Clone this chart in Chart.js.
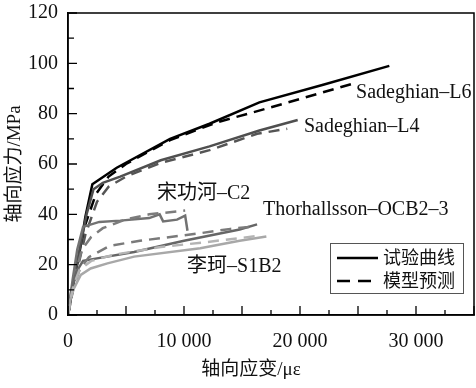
<!DOCTYPE html>
<html>
<head>
<meta charset="utf-8">
<script src="https://cdn.jsdelivr.net/npm/chart.js@4"></script>
<style>
  html, body { margin: 0; padding: 0; background: #fff; }
  #wrap { width: 476px; height: 388px; }
</style>
</head>
<body>
<div id="wrap"><canvas id="myChart" width="476" height="388"></canvas></div>
<script>
// axial strain (με) / axial stress (MPa)
var l6ExpStrain   = [0, 450, 1000, 1500, 2100, 4200, 8800, 12200, 16500, 22000, 27700];
var l6ExpStress   = [0, 12, 25, 39, 52, 58.5, 70, 76, 84.5, 91.5, 99];
var l6ModStrain   = [0, 700, 1500, 2400, 3500, 5000, 8800, 12800, 17100, 24600];
var l6ModStress   = [0, 18, 36, 48, 55, 60, 69.5, 76.5, 82, 92];

var l4ExpStrain   = [0, 500, 1000, 1600, 2200, 3000, 4500, 8000, 12200, 16500, 19800];
var l4ExpStress   = [0, 13, 26, 40, 50, 52.5, 55, 61.5, 67, 73.3, 77.5];
var l4ModStrain   = [0, 700, 1500, 2500, 3500, 5000, 8000, 12200, 16300, 18900];
var l4ModStress   = [0, 16, 32, 45, 51, 55, 60.5, 65.5, 72, 74];

var c2ExpStrain   = [0, 400, 800, 1300, 2700, 4500, 7000, 7900, 8200, 9400, 10100, 10300];
var c2ExpStress   = [0, 14, 26, 35, 37, 37.5, 38.5, 40, 37.2, 37.9, 39.5, 33.5];
var c2ModStrain   = [0, 600, 1200, 2000, 3000, 5000, 7000, 10100];
var c2ModStress   = [0, 16, 26, 31, 34.5, 38, 40, 41.5];

var thExpStrain   = [0, 300, 700, 1300, 2500, 5700, 10000, 14800, 16300];
var thExpStress   = [0, 10, 17, 21.5, 22.5, 25, 29.5, 34, 36];
var thModStrain   = [0, 400, 1000, 1800, 3600, 6200, 11400, 14000, 16000];
var thModStress   = [0, 10, 18, 23, 27.5, 29.5, 32.5, 34.2, 35.2];

var lkExpStrain   = [0, 200, 500, 1100, 1950, 3400, 5700, 11400, 14800, 17100];
var lkExpStress   = [0, 6, 10.5, 15.9, 18.5, 20.5, 23.2, 26.5, 29.5, 31.2];
var lkModStrain   = [0, 250, 500, 1000, 2000, 4000, 8000, 12000, 16500];
var lkModStress   = [0, 7, 12, 18, 21.5, 24, 27, 29, 31.5];

var xTickValues = [0, 10000, 20000, 30000];
var yTickValues = [0, 20, 40, 60, 80, 100, 120];

var curveLabels = [
  { text: 'Sadeghian–L6', x: 24830, y: 88.4 },
  { text: 'Sadeghian–L4', x: 20340, y: 74.8 },
  { text: '宋功河–C2', x: 7670, y: 48 },
  { text: 'Thorhallsson–OCB2–3', x: 16810, y: 42 },
  { text: '李珂–S1B2', x: 10260, y: 19.2 }
];
var legendLabels = ['试验曲线', '模型预测'];

var serif = "'Liberation Serif', 'Noto Sans CJK SC', serif";

function pts(xs, ys) {
  return xs.map(function (v, i) { return { x: v, y: ys[i] }; });
}

function line(data, color, dashed) {
  return {
    data: data,
    showLine: true,
    borderColor: color,
    backgroundColor: color,
    borderWidth: 2.5,
    borderDash: dashed ? [11, 7] : [],
    pointRadius: 0,
    tension: 0,
    fill: false
  };
}

// ticks inside, frame, labels, legend, x title
var decor = {
  id: 'decor',
  afterDraw: function (chart) {
    var c = chart.ctx, a = chart.chartArea;
    var xs = chart.scales.x, ys = chart.scales.y;
    c.save();
    c.strokeStyle = '#000';
    c.lineWidth = 1.5;
    c.strokeRect(a.left, a.top, a.right - a.left, a.bottom - a.top);

    c.lineWidth = 1.3;
    c.beginPath();
    for (var v = 0; v <= 120; v += 10) {
      var py = ys.getPixelForValue(v);
      var len = (v % 20 === 0) ? 9 : 6;
      c.moveTo(a.left, py); c.lineTo(a.left + len, py);
    }
    for (var s = 0; s <= 35000; s += 2500) {
      var px = xs.getPixelForValue(s);
      var l2 = (s % 5000 === 0) ? 9 : 5;
      c.moveTo(px, a.bottom); c.lineTo(px, a.bottom - l2);
    }
    c.stroke();

    c.fillStyle = '#111';
    c.font = '20px ' + serif;
    c.textBaseline = 'middle';
    c.textAlign = 'left';
    curveLabels.forEach(function (lb) {
      c.fillText(lb.text, xs.getPixelForValue(lb.x), ys.getPixelForValue(lb.y));
    });

    // legend box
    var bx = 330, by = 243, bw = 133, bh = 50;
    c.fillStyle = '#fff';
    c.fillRect(bx, by, bw, bh);
    c.strokeStyle = '#555';
    c.lineWidth = 1;
    c.strokeRect(bx + 0.5, by + 0.5, bw, bh);
    c.strokeStyle = '#000';
    c.lineWidth = 2.5;
    c.beginPath(); c.moveTo(337, 258); c.lineTo(378, 258); c.stroke();
    c.setLineDash([13, 8]);
    c.beginPath(); c.moveTo(337, 281); c.lineTo(378, 281); c.stroke();
    c.setLineDash([]);
    c.fillStyle = '#111';
    c.font = "18px 'Noto Sans CJK SC'";
    c.fillText(legendLabels[0], 383, 257);
    c.fillText(legendLabels[1], 383, 280);

    // x axis title
    c.textAlign = 'center';
    c.font = '19px ' + serif;
    c.fillText('轴向应变/με', 251, 370);
    c.restore();
  }
};

var ctx = document.getElementById('myChart').getContext('2d');
var chart = new Chart(ctx, {
  type: 'scatter',
  data: {
    datasets: [
      line(pts(lkModStrain, lkModStress), '#b4b4b4', true),
      line(pts(lkExpStrain, lkExpStress), '#a8a8a8', false),
      line(pts(thModStrain, thModStress), '#7a7a7a', true),
      line(pts(thExpStrain, thExpStress), '#666666', false),
      line(pts(c2ModStrain, c2ModStress), '#7c7c7c', true),
      line(pts(c2ExpStrain, c2ExpStress), '#727272', false),
      line(pts(l4ModStrain, l4ModStress), '#555555', true),
      line(pts(l4ExpStrain, l4ExpStress), '#4f4f4f', false),
      line(pts(l6ModStrain, l6ModStress), '#000000', true),
      line(pts(l6ExpStrain, l6ExpStress), '#000000', false)
    ]
  },
  options: {
    responsive: false,
    animation: false,
    layout: { padding: { top: 13, right: 2, left: 0, bottom: 0 } },
    plugins: { legend: { display: false }, tooltip: { enabled: false } },
    scales: {
      x: {
        type: 'linear', min: 0, max: 35000,
        grid: { display: false, drawTicks: false },
        border: { display: true, color: '#000', width: 1.5 },
        afterBuildTicks: function (sc) { sc.ticks = xTickValues.map(function (v) { return { value: v }; }); },
        afterFit: function (sc) { sc.height = 73; sc.paddingRight = 0; sc.paddingLeft = 0; },
        ticks: {
          padding: 15, color: '#111', font: { family: serif, size: 20 },
          maxRotation: 0,
          callback: function (v) { return v === 0 ? '0' : String(v).replace(/(\d)(?=(\d{3})+$)/g, '$1 '); }
        }
      },
      y: {
        type: 'linear', min: 0, max: 120,
        grid: { display: false, drawTicks: false },
        border: { display: true, color: '#000', width: 1.5 },
        afterBuildTicks: function (sc) { sc.ticks = yTickValues.map(function (v) { return { value: v }; }); },
        afterFit: function (sc) { sc.width = 68; sc.paddingTop = 0; sc.paddingBottom = 0; },
        title: { display: true, text: '轴向应力/MPa', color: '#111', font: { family: serif, size: 19 }, padding: { top: 4, bottom: 0 } },
        ticks: { padding: 10, color: '#111', font: { family: serif, size: 20 } }
      }
    }
  },
  plugins: [decor]
});
</script>
</body>
</html>
